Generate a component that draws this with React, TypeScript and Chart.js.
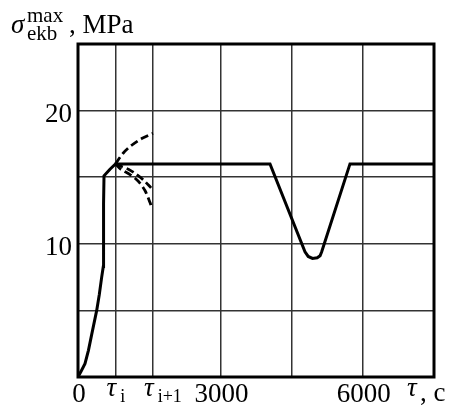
import React, { useEffect, useRef } from "react";
import { Chart, registerables } from "chart.js";
Chart.register(...registerables);

// ---- data ----
const TAU_I = 790;
const TAU_I1 = 1580;
const X_MIN = 0;
const X_MAX = 7500;
const Y_MIN = 0;
const Y_MAX = 25;

const xGridValues = [0, TAU_I, TAU_I1, 3000, 4500, 6000, 7500];
const yGridStep = 5;
const yLabelValues = [10, 20];

const xLabelValues = [0, TAU_I, TAU_I1, 3000, 6000];
const xLabelMain = ["0", "τ", "τ", "3000", "6000"];
const xLabelSub = ["", "i", "i+1", "", ""];
const xAxisName = "τ";
const xAxisUnit = ", c";
const yTitleMain = "σ";
const yTitleSup = "max";
const yTitleSub = "ekb";
const yTitleUnit = ", MPa";

// main solid curve
const mainX = [0, 60, 147, 220, 289, 394, 449, 499, 533, 537, 540, 548, 674, 790, 4045, 4782, 4850, 4940, 5040, 5100, 5134, 5730, 7500];
const mainY = [0, 0.4, 1.0, 2.0, 3.2, 5.0, 6.2, 7.5, 8.3, 10.5, 13.0, 15.1, 15.6, 16.0, 16.0, 9.4, 9.05, 8.9, 8.95, 9.1, 9.4, 16.0, 16.0];

// dashed branches after tau_i
const upperX = [790, 950, 1131, 1342, 1580];
const upperY = [16.0, 16.8, 17.4, 17.9, 18.3];
const lowerAX = [790, 920, 1060, 1236, 1376, 1540];
const lowerAY = [16.0, 15.8, 15.6, 15.2, 14.8, 14.2];
const lowerBX = [790, 900, 1096, 1271, 1411, 1517, 1545];
const lowerBY = [16.0, 15.6, 15.2, 14.7, 14.0, 13.1, 12.8];

const pts = (xs: number[], ys: number[]) => xs.map((x, i) => ({ x, y: ys[i] }));

const SERIF = '"Liberation Serif", "DejaVu Serif", serif';

const textPlugin = {
  id: "textPlugin",
  afterDraw(chart: any) {
    const { ctx, chartArea: ca, scales } = chart;
    const xs = scales.x;
    const ys = scales.y;
    ctx.save();
    // frame
    ctx.strokeStyle = "#000";
    ctx.lineWidth = 3;
    ctx.strokeRect(ca.left, ca.top, ca.right - ca.left, ca.bottom - ca.top);

    ctx.fillStyle = "#000";
    // y labels
    ctx.font = `27px ${SERIF}`;
    ctx.textAlign = "right";
    ctx.textBaseline = "alphabetic";
    yLabelValues.forEach((v) => {
      ctx.fillText(String(v), ca.left - 6, ys.getPixelForValue(v) + 11);
    });

    // x labels
    xLabelValues.forEach((v, i) => {
      const px = xs.getPixelForValue(v);
      if (xLabelSub[i]) {
        ctx.textAlign = "left";
        ctx.font = `italic 27px ${SERIF}`;
        const x0 = px - 9;
        ctx.fillText(xLabelMain[i], x0, 396);
        const w = ctx.measureText(xLabelMain[i]).width;
        ctx.font = `18px ${SERIF}`;
        ctx.fillText(xLabelSub[i], x0 + w + 4, 402);
      } else {
        ctx.textAlign = "center";
        ctx.font = `27px ${SERIF}`;
        ctx.fillText(xLabelMain[i], px + 1, 402);
      }
    });
    // axis name at right
    ctx.textAlign = "left";
    ctx.font = `italic 27px ${SERIF}`;
    ctx.fillText(xAxisName, 407, 396);
    ctx.font = `27px ${SERIF}`;
    ctx.fillText(xAxisUnit, 420, 401);

    // y title
    ctx.font = `italic 27px ${SERIF}`;
    ctx.fillText(yTitleMain, 11, 33);
    ctx.font = `21px ${SERIF}`;
    ctx.fillText(yTitleSup, 27, 22);
    ctx.fillText(yTitleSub, 27, 40);
    ctx.font = `27px ${SERIF}`;
    ctx.fillText(yTitleUnit, 69, 33);
    ctx.restore();
  },
};

export default function App() {
  const ref = useRef<HTMLCanvasElement>(null);
  useEffect(() => {
    document.body.style.margin = "0";
    const dashed = (data: any) => ({
      data,
      borderColor: "#000",
      borderWidth: 2.8,
      borderDash: [8, 4],
      pointRadius: 0,
      tension: 0.3,
      fill: false,
    });
    const chart = new Chart(ref.current!, {
      type: "line",
      data: {
        datasets: [
          {
            data: pts(mainX, mainY),
            borderColor: "#000",
            borderWidth: 3,
            pointRadius: 0,
            tension: 0,
            fill: false,
          },
          dashed(pts(upperX, upperY)),
          dashed(pts(lowerAX, lowerAY)),
          dashed(pts(lowerBX, lowerBY)),
        ],
      },
      options: {
        responsive: false,
        animation: false,
        layout: { padding: { left: 78, right: 18, top: 44, bottom: 31 } },
        plugins: { legend: { display: false }, tooltip: { enabled: false } },
        scales: {
          x: {
            type: "linear",
            min: X_MIN,
            max: X_MAX,
            afterBuildTicks: (s: any) => {
              s.ticks = xGridValues.map((v) => ({ value: v }));
            },
            ticks: { display: false },
            grid: { color: "#333", lineWidth: 1.5, drawTicks: false },
            border: { display: false },
          },
          y: {
            type: "linear",
            min: Y_MIN,
            max: Y_MAX,
            ticks: { display: false, stepSize: yGridStep },
            grid: { color: "#333", lineWidth: 1.5, drawTicks: false },
            border: { display: false },
          },
        },
      },
      plugins: [textPlugin],
    } as any);
    return () => chart.destroy();
  }, []);
  return (
    <div style={{ width: 452, height: 408 }}>
      <canvas ref={ref} width={452} height={408} style={{ display: "block" }} />
    </div>
  );
}
